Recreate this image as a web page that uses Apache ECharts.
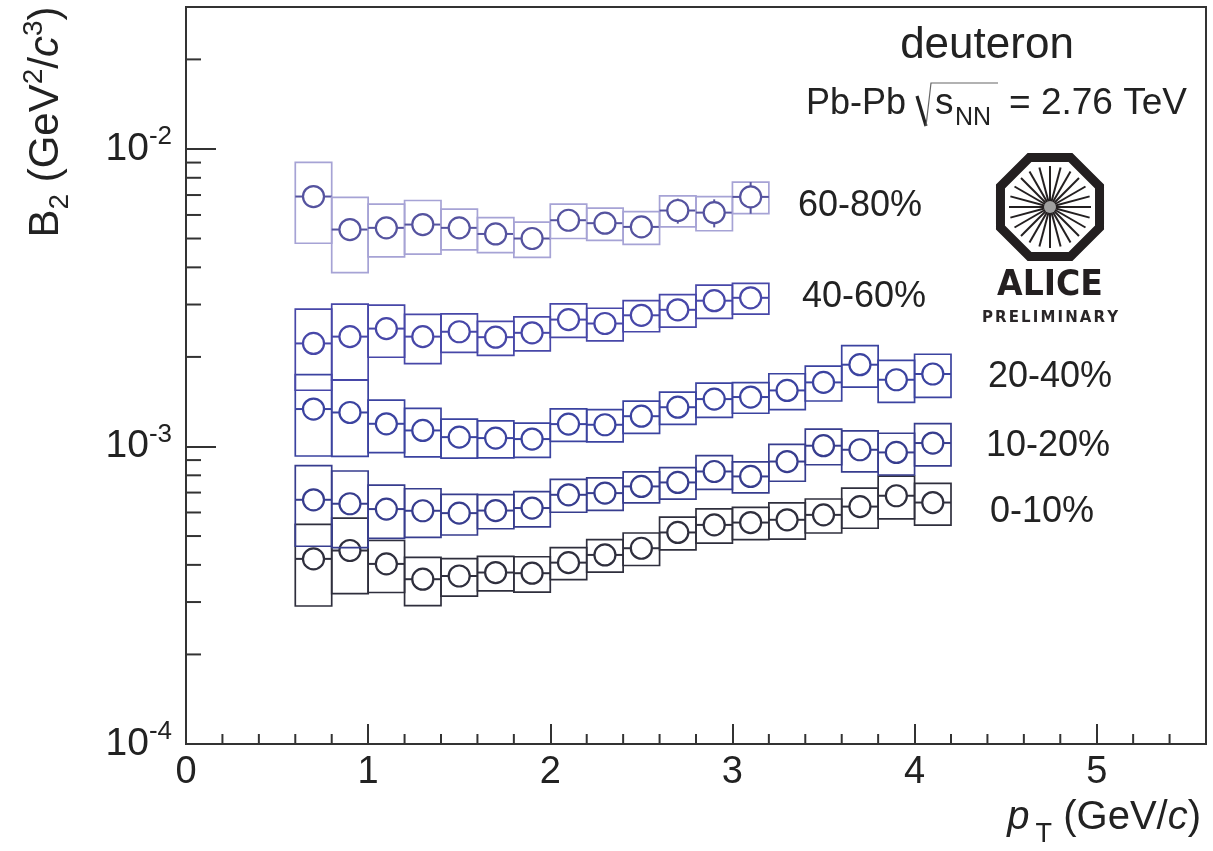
<!DOCTYPE html>
<html>
<head>
<meta charset="utf-8">
<script src="https://cdn.jsdelivr.net/npm/echarts@6/dist/echarts.min.js"></script>
<style>
  html, body { margin: 0; padding: 0; background: #ffffff; }
  #chart { width: 1213px; height: 851px; }
</style>
</head>
<body>
<div id="chart"></div>
<script>
const FONT = '"Liberation Sans", Arial, Helvetica, sans-serif';

// pT bin centres (GeV/c); every bin is 0.2 GeV/c wide
const ptBins = [0.7, 0.9, 1.1, 1.3, 1.5, 1.7, 1.9, 2.1, 2.3, 2.5, 2.7, 2.9, 3.1, 3.3, 3.5, 3.7, 3.9, 4.1];
const binHalfWidth = 0.1;

// B2 values with statistical and systematic uncertainties, in units of 1e-4 GeV^2/c^3
const UNIT = 1e-4;

const b2_60_80   = [69.2, 53.6, 54.3, 55.7, 54.3, 51.8, 50.0, 57.6, 56.3, 54.7, 62.1, 61.1, 69.0];
const sys_60_80  = [21.0, 15.2, 10.9, 11.4, 8.5, 7.0, 6.8, 7.6, 7.0, 6.9, 7.4, 8.0, 8.4];
const stat_60_80 = [3.0, 2.2, 2.1, 2.2, 2.3, 2.4, 2.5, 3.0, 3.4, 4.0, 6.0, 6.6, 8.4];

const b2_40_60   = [22.2, 23.4, 24.9, 23.4, 24.3, 23.3, 24.1, 26.7, 25.9, 27.6, 28.8, 30.9, 31.6];
const sys_40_60  = [6.75, 6.7, 4.95, 4.4, 3.6, 3.05, 3.15, 3.45, 3.25, 3.3, 3.6, 3.95, 3.75];
const stat_40_60 = [0.6, 0.5, 0.5, 0.5, 0.5, 0.5, 0.5, 0.6, 0.7, 0.8, 0.9, 1.1, 1.3];

const b2_20_40   = [13.36, 13.01, 11.92, 11.32, 10.75, 10.67, 10.59, 11.89, 11.83, 12.64, 13.55, 14.43, 14.66, 15.43, 16.42, 18.83, 16.76, 17.52];
const sys_20_40  = [4.07, 3.75, 2.39, 2.1, 1.61, 1.52, 1.4, 1.49, 1.47, 1.57, 1.68, 1.91, 1.73, 2.13, 2.2, 3.0, 2.7, 2.9];
const stat_20_40 = [0.3, 0.25, 0.2, 0.2, 0.2, 0.2, 0.2, 0.22, 0.25, 0.3, 0.35, 0.4, 0.45, 0.5, 0.6, 0.7, 0.75, 0.9];

const b2_10_20   = [6.62, 6.42, 6.16, 6.08, 5.97, 6.09, 6.21, 6.88, 6.97, 7.34, 7.57, 8.24, 7.93, 8.90, 10.06, 9.75, 9.55, 10.27];
const sys_10_20  = [2.0, 1.85, 1.25, 1.13, 0.93, 0.8, 0.84, 0.87, 0.87, 0.88, 0.92, 1.07, 0.95, 1.26, 1.38, 1.53, 1.53, 1.66];
const stat_10_20 = [0.15, 0.13, 0.11, 0.1, 0.1, 0.1, 0.1, 0.12, 0.13, 0.15, 0.17, 0.2, 0.22, 0.26, 0.3, 0.33, 0.38, 0.45];

const b2_0_10    = [4.19, 4.47, 4.03, 3.58, 3.67, 3.77, 3.75, 4.07, 4.32, 4.55, 5.14, 5.45, 5.55, 5.67, 5.89, 6.28, 6.83, 6.48];
const sys_0_10   = [1.28, 1.27, 0.80, 0.66, 0.53, 0.50, 0.51, 0.50, 0.54, 0.57, 0.65, 0.72, 0.69, 0.79, 0.77, 0.97, 1.12, 1.04];
const stat_0_10  = [0.1, 0.09, 0.08, 0.07, 0.07, 0.07, 0.07, 0.08, 0.09, 0.1, 0.11, 0.13, 0.14, 0.16, 0.18, 0.2, 0.24, 0.28];

// centrality classes
const centralityLabels = ['60-80%', '40-60%', '20-40%', '10-20%', '0-10%'];

// axis ticks
const xTickLabels = ['0', '1', '2', '3', '4', '5'];
const yDecades = [-4, -3, -2];

const AXIS_COLOR = '#333333';
const MARKER_R = 10.5;

function bandSeries(name, values, sys, stat, boxColor, markColor) {
  const data = values.map((v, i) => [ptBins[i], v * UNIT, sys[i] * UNIT, stat[i] * UNIT]);
  return {
    type: 'custom',
    name: name,
    data: data,
    encode: { x: 0, y: 1 },
    silent: true,
    clip: false,
    z: 3,
    renderItem: function (params, api) {
      const x = api.value(0), y = api.value(1), s = api.value(2), st = api.value(3);
      const tl = api.coord([x - binHalfWidth, y + s]);
      const br = api.coord([x + binHalfWidth, y - s]);
      const c = api.coord([x, y]);
      const R = MARKER_R;
      const children = [
        { type: 'rect', shape: { x: tl[0], y: tl[1], width: br[0] - tl[0], height: br[1] - tl[1] },
          style: { fill: 'none', stroke: boxColor, lineWidth: 1.7 } },
        { type: 'line', shape: { x1: tl[0], y1: c[1], x2: c[0] - R, y2: c[1] },
          style: { stroke: markColor, lineWidth: 2 } },
        { type: 'line', shape: { x1: c[0] + R, y1: c[1], x2: br[0], y2: c[1] },
          style: { stroke: markColor, lineWidth: 2 } },
        { type: 'circle', shape: { cx: c[0], cy: c[1], r: R },
          style: { fill: 'none', stroke: markColor, lineWidth: 2.2 } }
      ];
      const up = api.coord([x, y + st])[1];
      const dn = api.coord([x, y - st])[1];
      if (up < c[1] - R) {
        children.push({ type: 'line', shape: { x1: c[0], y1: c[1] - R, x2: c[0], y2: up },
          style: { stroke: markColor, lineWidth: 2 } });
      }
      if (dn > c[1] + R) {
        children.push({ type: 'line', shape: { x1: c[0], y1: c[1] + R, x2: c[0], y2: dn },
          style: { stroke: markColor, lineWidth: 2 } });
      }
      return { type: 'group', children: children };
    }
  };
}

// minor tick positions (log decades on y, 0.2 steps on x)
const yMinorTicks = [];
yDecades.forEach(function (d) {
  for (let m = 2; m <= 9; m++) {
    const v = m * Math.pow(10, d);
    if (v < 0.029) yMinorTicks.push([0, v]);
  }
});
const xMinorTicks = [];
for (let k = 1; k <= 27; k++) {
  if (k % 5 !== 0) xMinorTicks.push([k / 5, 1e-4]);
}

const tickSeriesY = {
  type: 'custom', data: yMinorTicks, encode: { x: 0, y: 1 }, silent: true, clip: false, z: 4,
  renderItem: function (params, api) {
    const p = api.coord([0, api.value(1)]);
    return { type: 'line', shape: { x1: p[0], y1: p[1], x2: p[0] + 15, y2: p[1] },
      style: { stroke: AXIS_COLOR, lineWidth: 2 } };
  }
};
const tickSeriesX = {
  type: 'custom', data: xMinorTicks, encode: { x: 0, y: 1 }, silent: true, clip: false, z: 4,
  renderItem: function (params, api) {
    const p = api.coord([api.value(0), 1e-4]);
    return { type: 'line', shape: { x1: p[0], y1: p[1], x2: p[0], y2: p[1] - 10 },
      style: { stroke: AXIS_COLOR, lineWidth: 2 } };
  }
};

// ALICE logo pieces
const LOGO_CX = 1050, LOGO_CY = 207;
const octagon = [];
for (let k = 0; k < 8; k++) {
  const a = (22.5 + 45 * k) * Math.PI / 180;
  octagon.push([LOGO_CX + 53.6 * Math.cos(a), LOGO_CY + 53.6 * Math.sin(a)]);
}
const logoElements = [
  { type: 'polygon', shape: { points: octagon }, style: { fill: 'none', stroke: '#231f20', lineWidth: 9, lineJoin: 'miter' } }
];
for (let k = 0; k < 24; k++) {
  const a = k * 15 * Math.PI / 180;
  logoElements.push({ type: 'line',
    shape: { x1: LOGO_CX + 4 * Math.cos(a), y1: LOGO_CY + 4 * Math.sin(a), x2: LOGO_CX + 41 * Math.cos(a), y2: LOGO_CY + 41 * Math.sin(a) },
    style: { stroke: '#231f20', lineWidth: 2 } });
}
logoElements.push({ type: 'circle', shape: { cx: LOGO_CX, cy: LOGO_CY, r: 6 }, style: { fill: '#a0a0a0' } });
logoElements.push({ type: 'text', x: LOGO_CX, y: 286, scaleX: 0.92,
  style: { text: 'ALICE', font: '600 36px "DejaVu Sans", sans-serif', fill: '#231f20', align: 'center', verticalAlign: 'middle' } });

// letter-spaced "PRELIMINARY"
const prelim = 'PRELIMINARY';
const prelimWidths = { P: 0.733, R: 0.770, E: 0.683, L: 0.637, I: 0.372, M: 0.995, N: 0.837, A: 0.774, Y: 0.724 };
(function () {
  const fs = 15, gap = 2.1;
  let total = 0;
  for (const ch of prelim) total += prelimWidths[ch] * fs;
  total += gap * (prelim.length - 1);
  let x = LOGO_CX - total / 2;
  for (const ch of prelim) {
    logoElements.push({ type: 'text', x: x, y: 318,
      style: { text: ch, font: 'bold ' + fs + 'px "DejaVu Sans", sans-serif', fill: '#2a2628', align: 'left', verticalAlign: 'middle' } });
    x += prelimWidths[ch] * fs + gap;
  }
})();

const labelPositions = [[798, 206], [802, 297], [988, 377], [986, 446], [990, 512]];
const centralityText = centralityLabels.map(function (t, i) {
  return { type: 'text', x: labelPositions[i][0], y: labelPositions[i][1],
    style: { text: t, font: '36px ' + FONT, fill: '#222222', align: 'left', verticalAlign: 'middle' } };
});

const chart = echarts.init(document.getElementById('chart'), null, { renderer: 'canvas' });

chart.setOption({
  animation: false,
  backgroundColor: '#ffffff',
  grid: { left: 186, top: 7, width: 1020, height: 737, show: true, borderColor: AXIS_COLOR, borderWidth: 2, backgroundColor: 'transparent' },
  xAxis: {
    type: 'value', min: 0, max: 5.6, interval: 1,
    axisLine: { show: true, lineStyle: { color: AXIS_COLOR, width: 2 } },
    axisTick: { show: true, inside: true, length: 20, lineStyle: { color: AXIS_COLOR, width: 2 } },
    minorTick: { show: false },
    splitLine: { show: false },
    axisLabel: {
      fontSize: 38, fontFamily: FONT, color: '#222222', margin: 10,
      formatter: function (v) {
        const idx = Math.round(v);
        return Math.abs(v - idx) < 1e-9 && xTickLabels[idx] !== undefined ? xTickLabels[idx] : '';
      }
    }
  },
  yAxis: {
    type: 'log', logBase: 10, min: 1e-4, max: 0.03,
    axisLine: { show: true, lineStyle: { color: AXIS_COLOR, width: 2 } },
    axisTick: { show: true, inside: true, length: 30, lineStyle: { color: AXIS_COLOR, width: 2 } },
    minorTick: { show: false },
    splitLine: { show: false },
    axisLabel: {
      margin: 14,
      formatter: function (v) {
        const e = Math.log10(v);
        const r = Math.round(e);
        if (Math.abs(e - r) > 1e-6 || yDecades.indexOf(r) < 0) return '';
        return '{m|10}{e|' + r + '}';
      },
      rich: {
        m: { fontSize: 39, fontFamily: FONT, color: '#222222' },
        e: { fontSize: 26, fontFamily: FONT, color: '#222222', padding: [0, 0, 24, 0] }
      }
    }
  },
  series: [
    tickSeriesY,
    tickSeriesX,
    bandSeries('0-10%', b2_0_10, sys_0_10, stat_0_10, '#2f2f3d', '#2f2f3d'),
    bandSeries('10-20%', b2_10_20, sys_10_20, stat_10_20, '#373d8e', '#373d8e'),
    bandSeries('20-40%', b2_20_40, sys_20_40, stat_20_40, '#3b43a0', '#3b43a0'),
    bandSeries('40-60%', b2_40_60, sys_40_60, stat_40_60, '#4747a8', '#4747a8'),
    bandSeries('60-80%', b2_60_80, sys_60_80, stat_60_80, '#a6a3d5', '#55539f')
  ],
  graphic: [
    // y-axis title
    { type: 'text', x: 46, y: 122, rotation: Math.PI / 2,
      style: {
        text: '{t|B}{sub|2}{t| (GeV}{sup|2}{t|/}{it|c}{sup|3}{t|)}',
        align: 'center', verticalAlign: 'middle',
        rich: {
          t: { fontSize: 42, fontFamily: FONT, fill: '#222222' },
          it: { fontSize: 42, fontFamily: FONT, fontStyle: 'italic', fill: '#222222' },
          sub: { fontSize: 28, fontFamily: FONT, fill: '#222222', padding: [28, 0, 0, 0] },
          sup: { fontSize: 28, fontFamily: FONT, fill: '#222222', padding: [0, 0, 24, 0] }
        }
      } },
    // x-axis title
    { type: 'text', x: 1201, y: 818,
      style: {
        text: '{it|p}{sub|T}{t| (GeV/}{it|c}{t|)}',
        align: 'right', verticalAlign: 'middle',
        rich: {
          t: { fontSize: 40, fontFamily: FONT, fill: '#222222' },
          it: { fontSize: 40, fontFamily: FONT, fontStyle: 'italic', fill: '#222222' },
          sub: { fontSize: 27, fontFamily: FONT, fill: '#222222', padding: [34, 0, 0, 6] }
        }
      } },
    // particle and collision system
    { type: 'text', x: 987, y: 46,
      style: { text: 'deuteron', font: '44px ' + FONT, fill: '#222222', align: 'center', verticalAlign: 'middle' } },
    { type: 'text', x: 806, y: 104,
      style: { text: 'Pb-Pb', font: '36px ' + FONT, fill: '#222222', align: 'left', verticalAlign: 'middle' } },
    { type: 'line', shape: { x1: 917, y1: 96, x2: 926, y2: 126 }, style: { stroke: '#222222', lineWidth: 3.2 } },
    { type: 'polyline', shape: { points: [[926, 126], [931, 83], [998, 83]] }, style: { stroke: '#666666', lineWidth: 1.2, fill: 'none' } },
    { type: 'text', x: 935, y: 104,
      style: { text: 's', font: '37px ' + FONT, fill: '#222222', align: 'left', verticalAlign: 'middle' } },
    { type: 'text', x: 955, y: 118,
      style: { text: 'NN', font: '25px ' + FONT, fill: '#222222', align: 'left', verticalAlign: 'middle' } },
    { type: 'text', x: 1009, y: 104,
      style: { text: '= 2.76 TeV', font: '37px ' + FONT, fill: '#222222', align: 'left', verticalAlign: 'middle' } }
  ].concat(centralityText).concat(logoElements)
});
</script>
</body>
</html>
